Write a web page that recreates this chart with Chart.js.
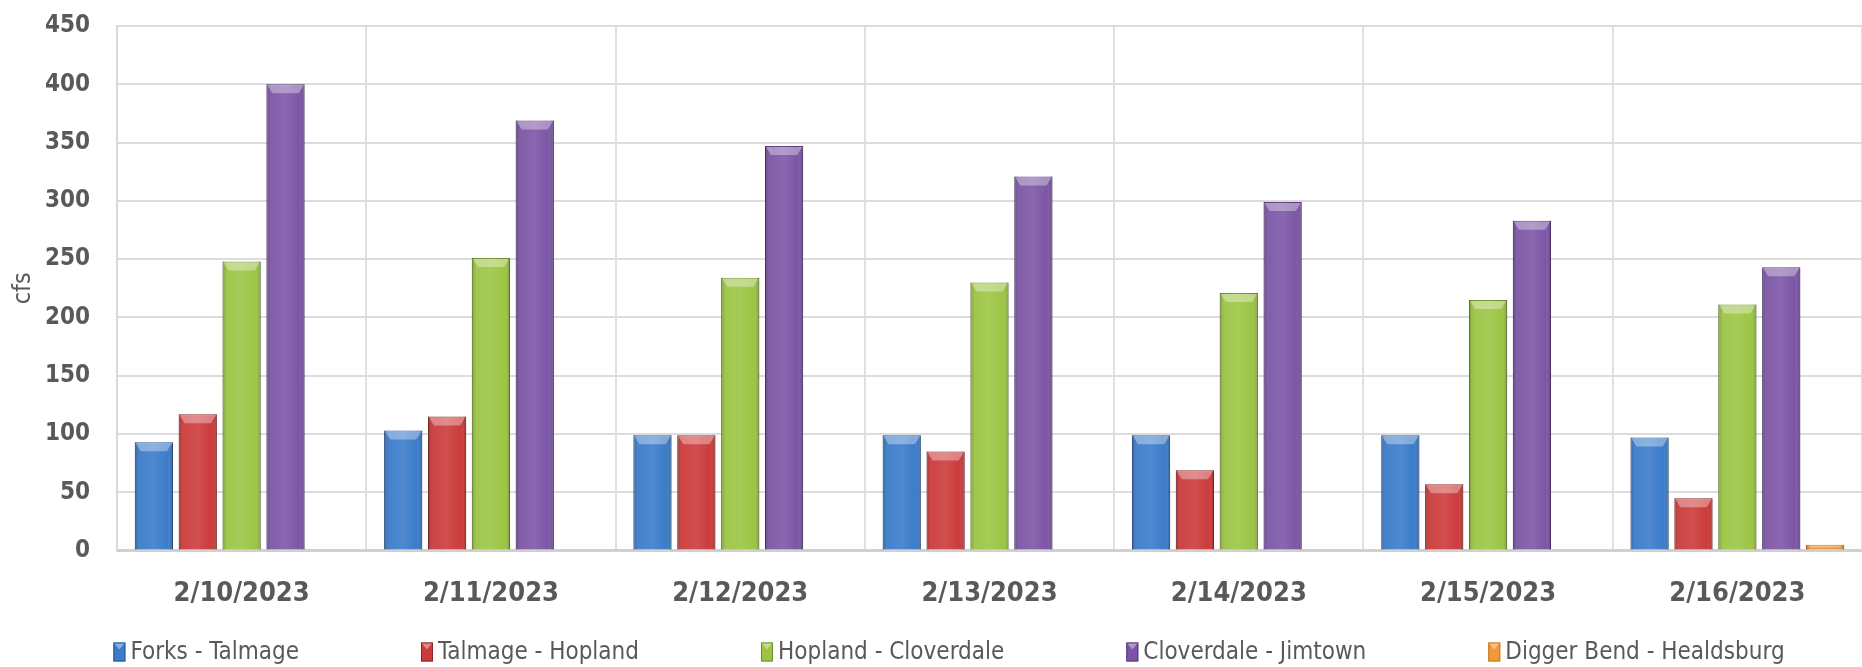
<!DOCTYPE html>
<html>
<head>
<meta charset="utf-8">
<script src="https://cdn.jsdelivr.net/npm/chart.js@4.4.0/dist/chart.umd.min.js"></script>
<style>
  html, body { margin: 0; padding: 0; background: #fff; }
  #wrap { width: 1862px; height: 667px; }
</style>
</head>
<body>
<div id="wrap"><canvas id="flowChart"></canvas></div>
<script>
const dates = ['2/10/2023', '2/11/2023', '2/12/2023', '2/13/2023', '2/14/2023', '2/15/2023', '2/16/2023'];

const forksTalmage = [93, 103, 99, 99, 99, 99, 97];
const talmageHopland = [117, 115, 99, 85, 69, 57, 45];
const hoplandCloverdale = [248, 251, 234, 230, 221, 215, 211];
const cloverdaleJimtown = [400, 369, 347, 321, 299, 283, 243];
const diggerBendHealdsburg = [1, 1, 1, 1, 1, 1, 5];

const FONT = "'Liberation Sans Narrow', 'DejaVu Sans Condensed', sans-serif";
const GREY = '#595959';

// fake the excel bevel look on top of each bar
const bevelPlugin = {
    id: 'bevel',
    afterDatasetsDraw(chart) {
        const c = chart.ctx;
        chart.data.datasets.forEach((ds, i) => {
            const meta = chart.getDatasetMeta(i);
            meta.data.forEach(bar => {
                const left = bar.x - bar.width / 2;
                const right = bar.x + bar.width / 2;
                const top = bar.y;
                const h = bar.base - bar.y;
                if (h < 4) return;
                c.save();
                const g = c.createLinearGradient(left, 0, right, 0);
                g.addColorStop(0, 'rgba(0,0,0,0.22)');
                g.addColorStop(0.15, 'rgba(255,255,255,0.05)');
                g.addColorStop(0.5, 'rgba(255,255,255,0.10)');
                g.addColorStop(0.85, 'rgba(255,255,255,0.0)');
                g.addColorStop(1, 'rgba(0,0,0,0.25)');
                c.fillStyle = g;
                c.fillRect(left, top, bar.width, h);
                const b = Math.min(9, h / 2);
                c.beginPath();
                c.moveTo(left + 1, top + 1);
                c.lineTo(right - 1, top + 1);
                c.lineTo(right - 6, top + b);
                c.lineTo(left + 6, top + b);
                c.closePath();
                c.fillStyle = 'rgba(255,255,255,0.35)';
                c.fill();
                c.restore();
            });
        });
    }
};

// excel style legend: one row, fixed gap after each label
const rowLegend = {
    id: 'rowLegend',
    afterDraw(chart) {
        const c = chart.ctx;
        const gap = 122, boxW = 12, boxH = 19, textGap = 5;
        c.save();
        c.font = `24px ${FONT}`;
        const items = chart.data.datasets.map(ds => ({
            ds, w: boxW + textGap + c.measureText(ds.label).width
        }));
        const total = items.reduce((s, it) => s + it.w, 0) + gap * (items.length - 1);
        let x = 949 - total / 2;
        const y = 652;
        items.forEach(it => {
            c.fillStyle = it.ds.backgroundColor;
            c.fillRect(x, y - boxH / 2, boxW, boxH);
            c.strokeStyle = it.ds.borderColor;
            c.lineWidth = 1;
            c.strokeRect(x + 0.5, y - boxH / 2 + 0.5, boxW - 1, boxH - 1);
            c.beginPath();
            c.moveTo(x + 1, y - boxH / 2 + 1);
            c.lineTo(x + boxW - 1, y - boxH / 2 + 1);
            c.lineTo(x + boxW / 2, y - boxH / 2 + 7);
            c.closePath();
            c.fillStyle = 'rgba(255,255,255,0.4)';
            c.fill();
            c.fillStyle = GREY;
            c.textBaseline = 'middle';
            c.fillText(it.ds.label, x + boxW + textGap, y + 1);
            x += it.w + gap;
        });
        c.restore();
    }
};

const ctx = document.getElementById('flowChart');

new Chart(ctx, {
    type: 'bar',
    data: {
        labels: dates,
        datasets: [
            { label: 'Forks - Talmage', data: forksTalmage, backgroundColor: '#3b7cca', borderColor: '#2a5894' },
            { label: 'Talmage - Hopland', data: talmageHopland, backgroundColor: '#cc3b3b', borderColor: '#8c2727' },
            { label: 'Hopland - Cloverdale', data: hoplandCloverdale, backgroundColor: '#9cc544', borderColor: '#6d8e2e' },
            { label: 'Cloverdale - Jimtown', data: cloverdaleJimtown, backgroundColor: '#7c56a6', borderColor: '#553a78' },
            { label: 'Digger Bend - Healdsburg', data: diggerBendHealdsburg, backgroundColor: '#f09a3a', borderColor: '#c47420' }
        ].map(d => ({ ...d, borderWidth: 1, categoryPercentage: 0.88, barPercentage: 0.87 }))
    },
    plugins: [bevelPlugin, rowLegend],
    options: {
        responsive: true,
        maintainAspectRatio: false,
        animation: false,
        layout: { padding: { left: 4, right: 0, top: 26, bottom: 30 } },
        plugins: {
            legend: { display: false },
            tooltip: { enabled: false }
        },
        scales: {
            x: {
                grid: { color: '#e0e0e0', lineWidth: 2, drawTicks: false },
                border: { color: '#d0d0d0', width: 3 },
                ticks: { color: GREY, padding: 27, font: { family: FONT, size: 27, weight: 'bold' } },
                afterFit: axis => { axis.paddingLeft = 0; axis.paddingRight = 0; }
            },
            y: {
                min: 0,
                max: 450,
                grid: { color: '#dcdcdc', lineWidth: 2, drawTicks: false },
                border: { color: '#d9d9d9', width: 2 },
                title: { display: true, text: 'cfs', color: GREY, padding: { top: 4, bottom: 0 }, font: { family: FONT, size: 25 } },
                ticks: { stepSize: 50, autoSkip: false, color: GREY, padding: 27, font: { family: FONT, size: 24, weight: 'bold' } },
                afterFit: axis => { axis.width = 113; axis.paddingTop = 0; axis.paddingBottom = 0; }
            }
        }
    }
});
</script>
</body>
</html>
